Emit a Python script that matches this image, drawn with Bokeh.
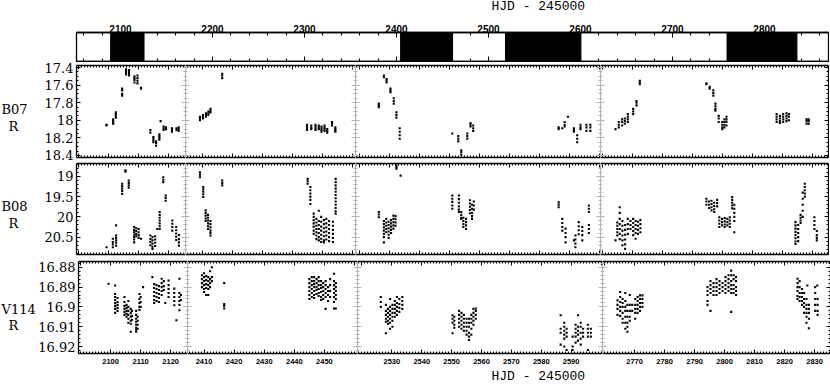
from bokeh.plotting import figure
from bokeh.layouts import row, column
from bokeh.models import Range1d, LinearAxis, FixedTicker, CustomJSTickFormatter
from bokeh.embed import file_html
from bokeh.resources import INLINE
from bokeh.core.properties import value

# ---------------- data ----------------
seasons = [(2089.3, 2125.6), (2404.5, 2461.0), (2518.5, 2600.5), (2759.3, 2835.3)]
top_ticks = [2100, 2200, 2300, 2400, 2500, 2600, 2700, 2800]
season_ticks = [[2100, 2110, 2120],
                [2410, 2420, 2430, 2440, 2450],
                [2530, 2540, 2550, 2560, 2570, 2580, 2590],
                [2770, 2780, 2790, 2800, 2810, 2820, 2830]]
star_names = ["B07", "B08", "V114"]
band = "R"
mag_ticks = [[17.4, 17.6, 17.8, 18.0, 18.2, 18.4],
             [19.0, 19.5, 20.0, 20.5],
             [16.88, 16.89, 16.90, 16.91, 16.92]]
mag_limits = [(18.423, 17.377), (20.93, 18.68), (16.9235, 16.8771)]
xlabel = "HJD - 245000"

# nightly observations: (HJD-2450000, [R magnitudes])
b07_1 = [(2099.3, [18.05, 18.06]), (2101.5, [17.99, 18.01, 18.03, 18.04]),
         (2102.4, [17.91, 17.93, 17.95, 17.97]), (2104.5, [17.64, 17.66, 17.70, 17.72]),
         (2105.8, [17.42, 17.44, 17.46, 17.48]), (2106.8, [17.43, 17.45, 17.47, 17.49]),
         (2108.6, [17.50, 17.52, 17.54, 17.57]), (2109.6, [17.49, 17.52, 17.55, 17.58]),
         (2110.8, [17.63, 17.64]), (2113.9, [18.11, 18.14]),
         (2114.9, [18.19, 18.21, 18.23, 18.25]), (2115.8, [18.24, 18.26, 18.29]),
         (2116.9, [18.16, 18.18, 18.20, 18.22]), (2117.3, [18.01]),
         (2118.3, [18.07, 18.09, 18.11]), (2119.1, [18.08, 18.10]),
         (2121.1, [18.09, 18.11, 18.13]), (2122.6, [18.09, 18.11]),
         (2123.3, [18.08, 18.10, 18.12])]
b07_2 = [(2409.3, [17.96, 17.98, 18.00]), (2410.3, [17.94, 17.96, 17.98]),
         (2411.3, [17.92, 17.94, 17.96]), (2412.1, [17.90, 17.92, 17.94]),
         (2412.8, [17.87, 17.89, 17.91]), (2416.7, [17.47, 17.49, 17.52]),
         (2444.9, [18.05, 18.07, 18.09, 18.11]), (2446.3, [18.06, 18.08, 18.10]),
         (2447.7, [18.05, 18.07, 18.09, 18.11]), (2448.8, [18.06, 18.08, 18.10]),
         (2449.7, [18.07, 18.09, 18.11, 18.13]), (2450.7, [18.06, 18.08, 18.10, 18.12]),
         (2451.6, [18.10, 18.12, 18.14]), (2453.2, [18.02, 18.04, 18.06]),
         (2454.3, [18.08, 18.10, 18.12, 18.13])]
b07_3 = [(2526.3, [17.81, 17.83, 17.85]), (2528.0, [17.49, 17.51]),
         (2528.9, [17.53, 17.55, 17.57]), (2530.2, [17.64, 17.66, 17.68]),
         (2531.3, [17.75, 17.78, 17.81]), (2532.2, [17.91, 17.94, 17.97]),
         (2533.3, [18.09, 18.13, 18.17, 18.21]), (2550.9, [18.15]),
         (2552.9, [18.18, 18.21, 18.24]), (2553.9, [18.34, 18.36, 18.39]),
         (2555.9, [18.15, 18.18, 18.21]), (2557.0, [18.03, 18.05, 18.07]),
         (2557.9, [18.06, 18.09, 18.12]), (2586.5, [18.08, 18.10]),
         (2587.7, [18.09]), (2588.5, [18.02, 18.05, 18.07]), (2589.6, [17.96]),
         (2591.6, [18.09, 18.11, 18.13]), (2592.7, [18.17, 18.21, 18.25]),
         (2593.8, [18.05, 18.08, 18.10]), (2595.8, [18.05, 18.08, 18.12]),
         (2597.1, [18.05, 18.08, 18.12])]
b07_4 = [(2764.3, [18.10]), (2765.4, [18.02, 18.05, 18.08]),
         (2766.5, [17.99, 18.02, 18.06]), (2767.4, [17.98, 18.01, 18.04]),
         (2768.4, [17.93, 17.96, 17.99, 18.02]), (2770.2, [17.87, 17.90, 17.93]),
         (2771.3, [17.78, 17.80, 17.83]), (2772.4, [17.55, 17.57, 17.59]),
         (2794.6, [17.58, 17.59]), (2795.7, [17.62, 17.64]),
         (2796.9, [17.66, 17.69, 17.72]), (2797.6, [17.81, 17.84, 17.87, 17.89]),
         (2798.7, [17.95, 17.98, 18.02]), (2799.9, [18.02, 18.05, 18.08, 18.10]),
         (2800.6, [17.99, 18.02, 18.05, 18.08]), (2801.3, [17.96, 17.99, 18.02, 18.06]),
         (2818.0, [17.93, 17.96, 17.99, 18.02]), (2819.1, [17.95, 17.98, 18.01, 18.03]),
         (2820.2, [17.93, 17.96, 17.99, 18.02]), (2821.3, [17.92, 17.95, 17.98, 18.01]),
         (2822.1, [17.93, 17.96, 18.00]), (2828.0, [17.99, 18.01, 18.04]),
         (2828.7, [17.99, 18.01, 18.04])]

b08_1 = [(2099.3, [20.75]), (2101.4, [20.54, 20.62, 20.68, 20.75]),
         (2102.5, [20.21, 20.46, 20.52, 20.58, 20.64, 20.71]),
         (2104.5, [19.18, 19.24, 19.30, 19.36, 19.43]), (2105.6, [18.85, 18.88]),
         (2106.7, [19.10, 19.16, 19.22, 19.28]),
         (2108.5, [20.25, 20.32, 20.38, 20.44, 20.50, 20.56, 20.63]),
         (2109.2, [20.28, 20.35, 20.42, 20.48]), (2110.0, [20.30, 20.38, 20.45, 20.52]),
         (2110.8, [20.54]), (2113.9, [20.46, 20.55, 20.62, 20.70]),
         (2114.6, [20.50, 20.58, 20.66, 20.74, 20.79]), (2115.5, [20.48, 20.56, 20.64, 20.72]),
         (2116.2, [20.30]), (2117.0, [19.88, 19.95, 20.02, 20.09, 20.16, 20.23, 20.30]),
         (2118.2, [19.02, 19.08, 19.14]), (2119.0, [19.47, 19.53, 19.60]),
         (2121.2, [20.09, 20.17, 20.25, 20.34]), (2122.5, [20.25, 20.33, 20.41, 20.49, 20.57]),
         (2123.4, [20.45, 20.55, 20.63, 20.71])]
b08_2 = [(2409.3, [18.90, 18.96, 19.02]), (2410.4, [19.26, 19.32, 19.38, 19.44, 19.51]),
         (2411.2, [19.84, 19.90, 19.97, 20.04, 20.10]),
         (2412.0, [19.95, 20.02, 20.09, 20.16, 20.23, 20.30]),
         (2412.8, [20.10, 20.18, 20.26, 20.34, 20.40, 20.46]),
         (2416.7, [19.10, 19.16, 19.22]), (2445.1, [19.06, 19.12, 19.18]),
         (2446.0, [19.26, 19.34, 19.42, 19.50, 19.58, 19.68]),
         (2447.1, [19.92, 20.00, 20.08, 20.16, 20.24, 20.34, 20.42]),
         (2448.0, [20.05, 20.14, 20.22, 20.30, 20.38, 20.46, 20.55]),
         (2448.8, [19.85, 20.10, 20.20, 20.30, 20.40, 20.50, 20.58]),
         (2449.6, [20.00, 20.12, 20.24, 20.34, 20.44, 20.54, 20.62]),
         (2450.5, [20.08, 20.18, 20.28, 20.38, 20.48, 20.58, 20.63]),
         (2451.3, [20.05, 20.16, 20.26, 20.36, 20.46, 20.56]),
         (2452.2, [20.10, 20.20, 20.30, 20.40, 20.50, 20.60]),
         (2453.5, [20.12, 20.22, 20.32, 20.42, 20.52, 20.62]),
         (2454.4, [19.06, 19.14, 19.22, 19.30, 19.38, 19.46, 19.54, 19.62, 19.70, 19.78, 19.86, 19.92])]
b08_3 = [(2526.3, [19.88, 19.94, 20.01]),
         (2528.0, [20.10, 20.18, 20.26, 20.34, 20.42, 20.50, 20.63]),
         (2528.8, [20.05, 20.14, 20.22, 20.30, 20.38]),
         (2529.6, [20.12, 20.20, 20.28, 20.36, 20.44, 20.52]),
         (2530.4, [20.08, 20.16, 20.24, 20.32, 20.40]),
         (2531.2, [19.97, 20.05, 20.13, 20.21, 20.29]), (2531.9, [19.98, 20.06, 20.14, 20.22]),
         (2532.2, [18.73, 18.77, 18.81]), (2533.6, [18.98]),
         (2550.9, [19.47, 19.55, 19.63, 19.72, 19.80]),
         (2553.1, [19.47, 19.56, 19.65, 19.74, 19.82, 19.88]),
         (2553.9, [19.88, 19.95, 20.02, 20.05]), (2554.6, [20.02, 20.10, 20.18, 20.25]),
         (2555.5, [20.05, 20.13, 20.21, 20.30]), (2556.8, [19.59, 19.67, 19.75, 19.83, 19.91]),
         (2557.5, [19.70, 19.80, 19.90, 19.98, 20.05]), (2558.1, [19.62, 19.72, 19.82]),
         (2586.5, [19.64, 19.70, 19.76]), (2587.7, [20.05, 20.15, 20.25, 20.34]),
         (2588.8, [20.29, 20.40, 20.50, 20.63]), (2591.6, [20.58]),
         (2592.1, [20.46, 20.56, 20.66, 20.75]), (2593.2, [20.13, 20.23, 20.33, 20.43]),
         (2594.4, [20.25, 20.35, 20.45, 20.58]),
         (2596.6, [19.72, 19.80, 19.88, 20.20, 20.30, 20.40])]
b08_4 = [(2764.3, [20.58]), (2764.9, [20.14, 20.22, 20.30, 20.38, 20.46]),
         (2765.7, [19.76, 19.90, 20.05, 20.18, 20.30, 20.42, 20.55]),
         (2766.6, [20.10, 20.22, 20.34, 20.46, 20.58, 20.70]),
         (2767.5, [20.20, 20.32, 20.44, 20.56, 20.68, 20.79]),
         (2768.4, [20.05, 20.18, 20.30, 20.42]), (2769.3, [20.10, 20.20, 20.30]),
         (2770.2, [20.05, 20.15, 20.25, 20.35, 20.45]),
         (2771.0, [20.10, 20.20, 20.30, 20.40, 20.54]),
         (2771.8, [20.12, 20.22, 20.32, 20.42]), (2772.6, [20.08, 20.18, 20.28, 20.38]),
         (2794.6, [19.55, 19.62, 19.70]), (2795.5, [19.62, 19.70, 19.78]),
         (2796.3, [19.60, 19.68, 19.76, 19.84]), (2797.2, [19.65, 19.73, 19.81, 19.88]),
         (2798.2, [19.58, 19.66, 19.74]), (2798.9, [20.01, 20.09, 20.17, 20.25]),
         (2799.8, [20.05, 20.13, 20.21]), (2800.7, [20.03, 20.11, 20.19, 20.25]),
         (2801.6, [20.05, 20.13, 20.21]), (2802.4, [20.01, 20.09, 20.17, 20.25]),
         (2803.2, [19.51, 19.58, 19.65, 19.72, 19.79]),
         (2803.9, [19.70, 19.80, 19.90, 20.00, 20.10, 20.38]),
         (2824.3, [20.13, 20.21, 20.29, 20.37, 20.45, 20.53, 20.61, 20.67]),
         (2825.2, [20.20, 20.30, 20.40, 20.50, 20.60]), (2826.0, [19.95, 20.02, 20.09, 20.15]),
         (2826.7, [19.40, 19.55, 19.70, 19.85, 20.00]), (2827.4, [19.18, 19.26, 19.34, 19.42, 19.50]),
         (2830.6, [20.01, 20.10, 20.20, 20.30]), (2831.4, [20.35, 20.45, 20.52, 20.58])]

v114_1 = [(2099.3, [16.8883]),
          (2101.5, [16.8892, 16.8935, 16.8950, 16.8965, 16.8980, 16.8995, 16.9010, 16.9030]),
          (2102.3, [16.8955, 16.8975, 16.8990, 16.9005, 16.9020]),
          (2104.6, [16.8950, 16.8975, 16.8995, 16.9010, 16.9025, 16.9040]),
          (2105.3, [16.8990, 16.9005, 16.9020, 16.9035, 16.9050]),
          (2105.9, [16.8970, 16.9000, 16.9020, 16.9040, 16.9060, 16.9080]),
          (2106.7, [16.9010, 16.9030, 16.9050, 16.9070, 16.9085, 16.9125]),
          (2107.1, [16.9020, 16.9045, 16.9065]),
          (2108.5, [16.9020, 16.9040, 16.9060, 16.9075, 16.9090, 16.9105, 16.9115, 16.9125]),
          (2109.0, [16.9050, 16.9070, 16.9090, 16.9110]),
          (2109.6, [16.8935, 16.8960, 16.8980, 16.9000, 16.9015]),
          (2110.0, [16.8950, 16.8975, 16.9000]), (2110.8, [16.8900]), (2113.9, [16.8850]),
          (2114.5, [16.8885, 16.8905, 16.8925, 16.8945, 16.8965, 16.8980]),
          (2115.3, [16.8890, 16.8910, 16.8930, 16.8950, 16.8970]),
          (2116.1, [16.8895, 16.8915, 16.8935, 16.8955, 16.8975]),
          (2117.0, [16.8858, 16.8880, 16.8900, 16.8920, 16.8940]),
          (2117.7, [16.8870, 16.8895, 16.8915]), (2118.2, [16.8980]),
          (2119.3, [16.8867, 16.8890, 16.8910, 16.8930, 16.8950]),
          (2121.2, [16.8908, 16.8930, 16.8950, 16.8970, 16.8992]), (2121.9, [16.9067]),
          (2122.9, [16.8858, 16.8930, 16.8950, 16.8970, 16.8990, 16.9017]),
          (2123.4, [16.8940, 16.8965])]
v114_2 = [(2409.3, [16.8840, 16.8860, 16.8880, 16.8900]),
          (2410.0, [16.8830, 16.8850, 16.8870, 16.8890, 16.8910, 16.8925]),
          (2410.7, [16.8845, 16.8865, 16.8885, 16.8905, 16.8940]),
          (2411.4, [16.8850, 16.8870, 16.8890, 16.8910, 16.8940]),
          (2412.0, [16.8820, 16.8860, 16.8880, 16.8900]),
          (2412.6, [16.8800, 16.8850, 16.8870]),
          (2416.7, [16.8880, 16.8985, 16.8995, 16.9008]),
          (2445.0, [16.8860, 16.8880, 16.8900, 16.8920, 16.8940, 16.8960]),
          (2445.8, [16.8850, 16.8870, 16.8890, 16.8910, 16.8930, 16.8950]),
          (2446.6, [16.8850, 16.8870, 16.8885, 16.8900, 16.8920, 16.8940, 16.8955]),
          (2447.4, [16.8860, 16.8880, 16.8900, 16.8915, 16.8935]),
          (2448.1, [16.8850, 16.8870, 16.8890, 16.8910, 16.8930, 16.8945]),
          (2448.9, [16.8870, 16.8890, 16.8905, 16.8925, 16.8950, 16.8965]),
          (2449.6, [16.8880, 16.8900, 16.8920, 16.8940, 16.8960]),
          (2450.4, [16.8870, 16.8890, 16.8910, 16.8930, 16.8950, 16.9010]),
          (2451.2, [16.8900, 16.8920, 16.8940, 16.8970]),
          (2451.9, [16.8860, 16.8890, 16.8920, 16.8950]),
          (2453.2, [16.8833, 16.8870, 16.8890, 16.8910, 16.8930, 16.8950, 16.8975, 16.9008]),
          (2453.8, [16.8880, 16.8900, 16.8920, 16.8940, 16.8960, 16.9008])]
v114_3 = [(2526.3, [16.8950, 16.8975, 16.9000]),
          (2528.0, [16.8990, 16.9020, 16.9040, 16.9060, 16.9075, 16.9133]),
          (2528.7, [16.9010, 16.9030, 16.9050, 16.9070, 16.9085]),
          (2529.4, [16.8960, 16.9000, 16.9020, 16.9040, 16.9060, 16.9080, 16.9110]),
          (2530.2, [16.8990, 16.9010, 16.9030, 16.9050, 16.9070, 16.9100]),
          (2531.0, [16.8970, 16.8990, 16.9010, 16.9030, 16.9050]),
          (2531.7, [16.8950, 16.8980, 16.9000, 16.9020, 16.9040]),
          (2532.5, [16.8960, 16.8985, 16.9005, 16.9025]),
          (2533.5, [16.8950, 16.8970, 16.8990, 16.9010]),
          (2550.3, [16.9042, 16.9060, 16.9080, 16.9133]),
          (2550.9, [16.9050, 16.9070, 16.9090, 16.9105]),
          (2552.5, [16.9020, 16.9040, 16.9060, 16.9080, 16.9100]),
          (2553.3, [16.9030, 16.9050, 16.9070, 16.9090, 16.9110]),
          (2554.1, [16.9040, 16.9060, 16.9080, 16.9100, 16.9120]),
          (2555.0, [16.9060, 16.9080, 16.9100, 16.9120, 16.9140]),
          (2555.8, [16.9060, 16.9080, 16.9100, 16.9130, 16.9150, 16.9167]),
          (2556.6, [16.9040, 16.9060, 16.9080, 16.9110, 16.9140]),
          (2557.3, [16.9010, 16.9030, 16.9050, 16.9070, 16.9090]),
          (2558.1, [16.9008, 16.9020, 16.9040, 16.9060]),
          (2586.5, [16.9042, 16.9110, 16.9130, 16.9190]),
          (2587.7, [16.9080, 16.9100, 16.9120, 16.9140, 16.9160, 16.9200]),
          (2588.5, [16.9110, 16.9130, 16.9150, 16.9217]),
          (2590.5, [16.9150, 16.9200, 16.9217]),
          (2591.5, [16.9090, 16.9110, 16.9130, 16.9150, 16.9180]),
          (2592.3, [16.9042, 16.9100, 16.9120, 16.9140, 16.9170]),
          (2593.2, [16.9080, 16.9100, 16.9130, 16.9160, 16.9190]),
          (2594.0, [16.9110, 16.9130, 16.9150]),
          (2595.6, [16.9090, 16.9110, 16.9130, 16.9150, 16.9217]),
          (2596.6, [16.9110, 16.9130, 16.9150])]
v114_4 = [(2764.3, [16.8967, 16.8990, 16.9010, 16.9040]),
          (2765.2, [16.8925, 16.8950, 16.8975, 16.9000, 16.9020, 16.9045]),
          (2766.0, [16.8960, 16.8980, 16.9000, 16.9030, 16.9060, 16.9080]),
          (2766.9, [16.8930, 16.8970, 16.9000, 16.9020, 16.9050, 16.9080, 16.9110]),
          (2767.6, [16.8990, 16.9020, 16.9050, 16.9080, 16.9100, 16.9125]),
          (2768.4, [16.8940, 16.8990, 16.9020, 16.9050, 16.9070]),
          (2769.2, [16.8990, 16.9020]),
          (2770.2, [16.8960, 16.8990, 16.9010, 16.9030, 16.9060]),
          (2771.0, [16.8950, 16.8970, 16.8990, 16.9010, 16.9030]),
          (2771.8, [16.8942, 16.8960, 16.8980, 16.9000, 16.9020]),
          (2772.6, [16.8942, 16.8960, 16.8980, 16.9000]),
          (2794.3, [16.8900, 16.8920, 16.8940, 16.8970, 16.8990]),
          (2795.3, [16.8870, 16.8890, 16.8910, 16.8930, 16.9020]),
          (2796.3, [16.8880, 16.8900, 16.8920, 16.8940]),
          (2797.3, [16.8860, 16.8880, 16.8900, 16.8920, 16.8940]),
          (2798.3, [16.8870, 16.8890, 16.8910, 16.8930]),
          (2799.3, [16.8880, 16.8900, 16.8920]),
          (2800.3, [16.8850, 16.8870, 16.8890, 16.8910, 16.8930]),
          (2801.3, [16.8840, 16.8860, 16.8880, 16.8900, 16.8920]),
          (2802.2, [16.8817, 16.8840, 16.8870, 16.8890, 16.8910, 16.8930, 16.9025]),
          (2803.0, [16.8840, 16.8860, 16.8890, 16.8910, 16.8930]),
          (2803.8, [16.8850, 16.8870, 16.8900, 16.8920, 16.8940]),
          (2824.3, [16.8858, 16.8880, 16.8900, 16.8920, 16.8945, 16.8960]),
          (2825.0, [16.8870, 16.8900, 16.8930, 16.8950, 16.8970]),
          (2825.8, [16.8910, 16.8930, 16.8950, 16.8970, 16.8990]),
          (2826.5, [16.8930, 16.8960, 16.8980, 16.9000, 16.9030]),
          (2827.3, [16.8960, 16.8990, 16.9010, 16.9030, 16.9050, 16.9080]),
          (2827.6, [16.8892]),
          (2828.1, [16.8990, 16.9010, 16.9030, 16.9060, 16.9108]),
          (2830.2, [16.8900, 16.8930, 16.8960, 16.8990, 16.9020]),
          (2830.9, [16.8892]),
          (2831.0, [16.8960, 16.8990, 16.9020, 16.9040])]

light_curves = [[b07_1, b07_2, b07_3, b07_4],
                [b08_1, b08_2, b08_3, b08_4],
                [v114_1, v114_2, v114_3, v114_4]]

# ---------------- layout / style ----------------
TOTAL_W = 829
PANEL_W = [109, 170, 245, 228]
ROWS = [(3, 92, 5), (1, 91, 4), (3, 92, 16)]   # top border, frame height, bottom border
LABEL_W = 35
LEFT_B = 41
LABEL_Y = [(44, 61), (43, 60), (48, 64)]       # name / band label centres within row canvas
GRAY = "#b4b4b4"
SERIF = "DejaVu Serif"
MONO = "Liberation Mono"
TOP_MINOR = list(range(2060, 2870, 20))
Y_MINOR_STEP = [0.05, 0.1, 0.002]


def flatten(nights):
    xs, ys = [], []
    for t, ms in nights:
        for m in ms:
            xs.append(t)
            ys.append(m)
    return xs, ys


def make_axis(ticks, minor, color, labels=False, font=None, size=None, style="normal",
              standoff=3, maj=4, mnr=2, line=True):
    ax = LinearAxis(ticker=FixedTicker(ticks=ticks, minor_ticks=minor),
                    axis_line_color=color if line else None, axis_line_width=1.3,
                    major_tick_line_color=color, minor_tick_line_color=color,
                    major_tick_in=maj, major_tick_out=0, minor_tick_in=mnr, minor_tick_out=0,
                    major_tick_line_width=1, minor_tick_line_width=1)
    if labels:
        ax.formatter = CustomJSTickFormatter(code="return String(tick);")
        ax.major_label_text_font = font
        ax.major_label_text_font_size = size
        ax.major_label_text_font_style = style
        ax.major_label_text_color = "black"
        ax.major_label_standoff = standoff
    else:
        ax.formatter = CustomJSTickFormatter(code="return '';")
        ax.major_label_text_font_size = "0px"
        ax.major_label_standoff = 0
    return ax


def bare(width, height, yr):
    f = figure(frame_width=width, frame_height=height, x_range=Range1d(0, width), y_range=Range1d(*yr),
               min_border=0, x_axis_location=None, y_axis_location=None, title=None,
               output_backend="svg", toolbar_location=None, outline_line_color=None)
    f.xgrid.visible = False
    f.ygrid.visible = False
    return f


def strip_title(height, y):
    s = bare(TOTAL_W, height, (height, 0))
    s.text(x=[415], y=[y], text=[xlabel], text_font=value(MONO), text_font_size="13px",
           text_align="left", text_baseline="middle", text_color="black")
    return s


# ---- title strip + top overview strip ----
title_top = strip_title(14, 6)

top = figure(frame_width=752, frame_height=29, x_range=Range1d(2052.2, 2869.6), y_range=Range1d(0, 1),
             min_border_left=76, min_border_right=1, min_border_top=18, min_border_bottom=1,
             title=None, x_axis_location=None, y_axis_location=None,
             output_backend="svg", toolbar_location=None,
             outline_line_color="black", outline_line_width=1.3)
top.xgrid.visible = False
top.ygrid.visible = False
top.quad(left=[s[0] for s in seasons], right=[s[1] for s in seasons], bottom=0, top=1,
         fill_color="black", line_color="black")
top.add_layout(make_axis(top_ticks, TOP_MINOR, "black", True, "Liberation Sans", "10px", "bold",
                         standoff=0, maj=5, mnr=3), "above")
top.add_layout(make_axis(top_ticks, TOP_MINOR, "black", False, maj=5, mnr=3), "below")

rows = []
for ri in range(3):
    bt, fh, bb = ROWS[ri]
    ch = bt + fh + bb
    lab = bare(LABEL_W, ch, (ch, 0))
    lab.text(x=[1], y=[LABEL_Y[ri][0]], text=[star_names[ri]], text_font=value(SERIF),
             text_font_size="13px", text_align="left", text_baseline="middle", text_color="black")
    lab.text(x=[13], y=[LABEL_Y[ri][1]], text=[band], text_font=value(SERIF),
             text_font_size="13px", text_align="center", text_baseline="middle", text_color="black")

    lo, hi = mag_limits[ri]
    step = Y_MINOR_STEP[ri]
    ymin = min(lo, hi)
    ymax = max(lo, hi)
    y_minor = [round(k * step, 4) for k in range(int(ymin / step), int(ymax / step) + 2)]

    panels = []
    for ci in range(4):
        x0, x1 = seasons[ci]
        x_minor = list(range(int(x0), int(x1) + 1))
        x_major = list(range(int(x0 / 10) * 10, int(x1) + 1, 10))
        p = figure(frame_width=PANEL_W[ci], frame_height=fh,
                   x_range=Range1d(x0, x1), y_range=Range1d(lo, hi),
                   min_border_top=bt, min_border_bottom=bb,
                   min_border_left=LEFT_B if ci == 0 else 0,
                   min_border_right=1 if ci == 3 else 0,
                   x_axis_location=None, y_axis_location=None, title=None,
                   output_backend="svg", toolbar_location=None, outline_line_color=None)
        p.xgrid.visible = False
        p.ygrid.visible = False
        xs, ys = flatten(light_curves[ri][ci])
        p.scatter(xs, ys, marker="square", size=2.1, fill_color="black", line_color=None)

        # top / bottom frame axes
        p.add_layout(make_axis(x_major, x_minor, "black", False), "above")
        if ri == 2:
            p.add_layout(make_axis(season_ticks[ci], x_minor, "black", True, "Liberation Sans",
                                   "7.5px", "bold", standoff=5), "below")
        else:
            p.add_layout(make_axis(x_major, x_minor, "black", False), "below")
        # left / right frame axes
        if ci == 0:
            p.add_layout(make_axis(mag_ticks[ri], y_minor, "black", True, SERIF, "13px",
                                   standoff=3), "left")
        else:
            p.add_layout(make_axis(mag_ticks[ri], y_minor, GRAY, False), "left")
        if ci == 3:
            p.add_layout(make_axis(mag_ticks[ri], y_minor, "black", False), "right")
        else:
            p.add_layout(make_axis(mag_ticks[ri], y_minor, GRAY, False, line=False), "right")
        panels.append(p)
    rows.append(row(lab, *panels))

title_bottom = strip_title(15, 7)

layout = column(title_top, top, *rows, title_bottom)

open("out.html", "w").write(file_html(layout, INLINE))
